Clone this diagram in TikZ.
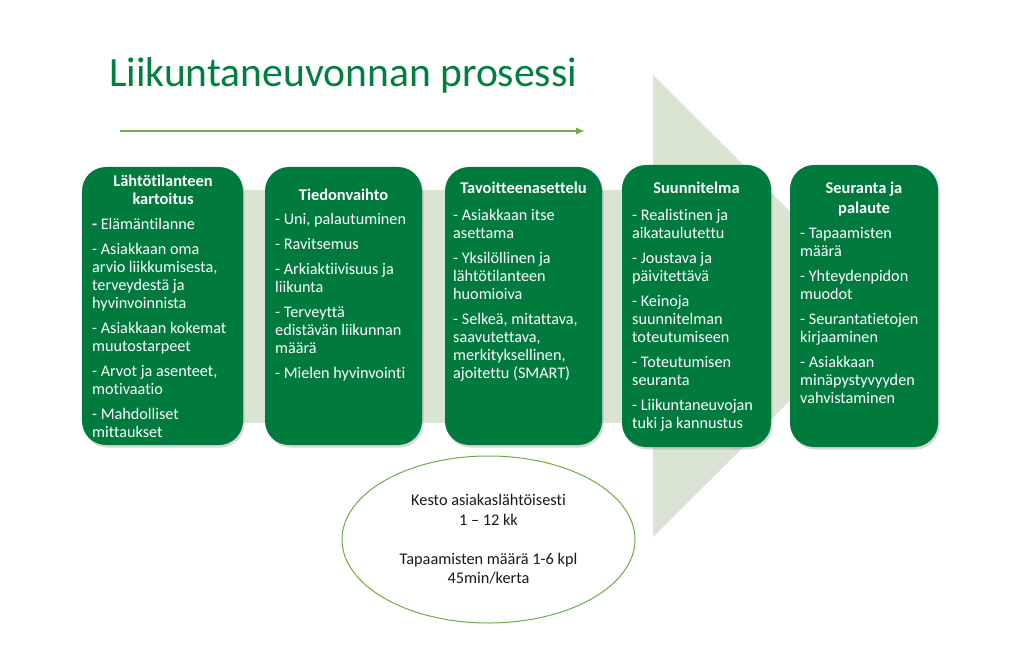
\documentclass[tikz,border=0pt]{standalone}
\usepackage{fontspec}
\setmainfont{Carlito}[Ligatures=NoCommon]
\usepackage{tikz}
\usetikzlibrary{shapes,arrows,shadows}
\definecolor{boxgreen}{HTML}{007A3D}
\definecolor{titlegreen}{HTML}{00803F}
\definecolor{linegreen}{HTML}{70AD47}
\definecolor{bggreen}{HTML}{D9E4D2}
\definecolor{inkgray}{HTML}{1A1A1A}

\begin{document}
\begin{tikzpicture}[x=1bp, y=-1bp,
      stage/.style = {
        rectangle, fill=boxgreen, rounded corners=24bp, minimum height=278bp,
        drop shadow={shadow xshift=1.5bp, shadow yshift=-2.5bp, opacity=0.3} },
      stagehead/.style = {
        anchor=north, inner sep=0pt, text=white, align=center,
        font=\fontsize{16.4bp}{18bp}\selectfont\bfseries },
      stagetext/.style = {
        anchor=north west, inner sep=0pt, text=white, align=left,
        font=\fontsize{16.2bp}{18bp}\selectfont },
      flow/.style = { draw=linegreen, line width=2bp, ->, >=latex }]
    \useasboundingbox (0,0) rectangle (1019,651);
    % big background arrow
    \fill[bggreen] (130,190) -- (653,190) -- (653,75) -- (885,306)
      -- (653,537) -- (653,423) -- (130,423) -- cycle;
    \node [anchor=base west, inner sep=0pt, text=titlegreen,
      font=\fontsize{41.6bp}{48bp}\selectfont] (title) at (109,87)
      {Liikuntaneuvonnan prosessi};
    \coordinate (flowstart) at (120,131);
    \coordinate (flowend) at (585,131);
    \draw[flow] (flowstart) -- (flowend);
    % the five stages
    \node [stage, minimum width=161bp] (s1) at (162.5,306) {};
    \node [stage, minimum width=157bp] (s2) at (343.5,306) {};
    \node [stage, minimum width=157bp] (s3) at (523.5,306) {};
    \node [stage, minimum width=149bp, minimum height=282bp] (s4) at (696.5,306) {};
    \node [stage, minimum width=148bp, minimum height=282bp] (s5) at (864,306) {};
    \node [stagehead] (s1head) at (163,174) {\strut Lähtötilanteen\\kartoitus};
    \node [stagetext] (s1text) at (92,216.5) {\strut\textbf{-} Elämäntilanne\\[7bp]
      - Asiakkaan oma\\arvio liikkumisesta,\\terveydestä ja\\hyvinvoinnista\\[7bp]
      - Asiakkaan kokemat\\muutostarpeet\\[7bp]
      - Arvot ja asenteet,\\motivaatio\\[7bp]
      - Mahdolliset\\mittaukset};
    \node [stagehead] (s2head) at (343.5,188) {\strut Tiedonvaihto};
    \node [stagetext] (s2text) at (275,211.5) {\strut - Uni, palautuminen\\[7bp]
      - Ravitsemus\\[7bp]
      - Arkiaktiivisuus ja\\liikunta\\[7bp]
      - Terveyttä\\edistävän liikunnan\\määrä\\[7bp]
      - Mielen hyvinvointi};
    \node [stagehead] (s3head) at (523.5,181) {\strut Tavoitteenasettelu};
    \node [stagetext] (s3text) at (453,207.5) {\strut - Asiakkaan itse\\asettama\\[7bp]
      - Yksilöllinen ja\\lähtötilanteen\\huomioiva\\[7bp]
      - Selkeä, mitattava,\\saavutettava,\\merkityksellinen,\\ajoitettu (SMART)};
    \node [stagehead] (s4head) at (696.5,181) {\strut Suunnitelma};
    \node [stagetext] (s4text) at (632,207.5) {\strut - Realistinen ja\\aikataulutettu\\[7bp]
      - Joustava ja\\päivitettävä\\[7bp]
      - Keinoja\\suunnitelman\\toteutumiseen\\[7bp]
      - Toteutumisen\\seuranta\\[7bp]
      - Liikuntaneuvojan\\tuki ja kannustus};
    \node [stagehead] (s5head) at (864,181) {\strut Seuranta ja\\[2bp]palaute};
    \node [stagetext] (s5text) at (800,225.5) {\strut - Tapaamisten\\määrä\\[7bp]
      - Yhteydenpidon\\muodot\\[7bp]
      - Seurantatietojen\\kirjaaminen\\[7bp]
      - Asiakkaan\\minäpystyvyyden\\vahvistaminen};
    % duration ellipse
    \node [ellipse, draw=linegreen, line width=1bp, fill=white,
      minimum width=293bp, minimum height=167bp, align=center, text=inkgray,
      font=\fontsize{16.3bp}{19.5bp}\selectfont] (kesto) at (488.5,539.5)
      {Kesto asiakaslähtöisesti\\1 -- 12 kk\\[19.5bp]Tapaamisten määrä 1-6 kpl\\45min/kerta};
  \end{tikzpicture}
\end{document}
